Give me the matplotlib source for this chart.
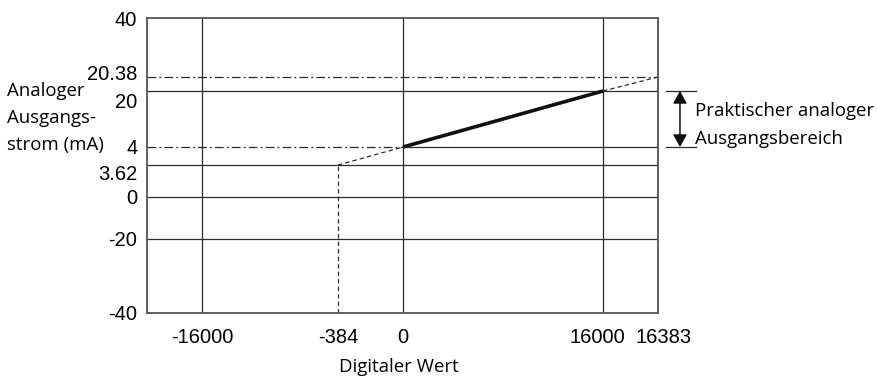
import numpy as np
import matplotlib
matplotlib.use("Agg")
import matplotlib.pyplot as plt
from matplotlib.transforms import ScaledTranslation, blended_transform_factory

# Tick values and the characteristic output line
x_ticks = [-16000, -384, 0, 16000, 16383]
y_ticks = [-40, -20, 0, 3.62, 4, 20, 20.38, 40]
digital = [-384, 0, 16000, 16383]
current = [3.62, 4, 20, 20.38]

x_min, x_max = -20000, 16383
y_min, y_max = -40, 40

# Piecewise axis spacing (schematic, not to scale)
x_knots = [x_min, -16000, -384, 0, 16000, 16383]
x_place = [0, 55, 191, 256, 456, 511]
y_knots = [-40, -20, 0, 3.62, 4, 20, 20.38, 40]
y_place = [0, 74, 116, 148, 166, 222, 236, 295]


def piecewise(knots, place):
    k = np.asarray(knots, float)
    p = np.asarray(place, float)
    s0 = (p[1] - p[0]) / (k[1] - k[0])
    s1 = (p[-1] - p[-2]) / (k[-1] - k[-2])
    big = 1e7
    k = np.concatenate([[k[0] - big], k, [k[-1] + big]])
    p = np.concatenate([[p[0] - big * s0], p, [p[-1] + big * s1]])

    def fwd(v):
        return np.interp(v, k, p)

    def inv(v):
        return np.interp(v, p, k)

    return fwd, inv


TICK_FONT = "Liberation Sans"
LABEL_FONT = "Open Sans"
LABEL_SIZE = 13.4
GRID = "#2b2b2b"

fig = plt.figure(figsize=(8.78, 3.79), dpi=100)
ax = fig.add_axes([147 / 878, 66 / 379, 511 / 878, 295 / 379])
ax.set_xscale("function", functions=piecewise(x_knots, x_place))
ax.set_yscale("function", functions=piecewise(y_knots, y_place))
ax.set_xlim(x_min, x_max)
ax.set_ylim(y_min, y_max)

for s in ax.spines.values():
    s.set_color("#555555")
    s.set_linewidth(1.3)

# Solid reference lines
for xv in (-16000, 0, 16000):
    ax.plot([xv, xv], [y_min, y_max], color=GRID, lw=0.9)
for yv in (20, 3.62, 0, -20):
    ax.plot([x_min, x_max], [yv, yv], color=GRID, lw=0.9)
ax.plot([0, x_max], [4, 4], color=GRID, lw=0.9)

# Dash-dot limits
dashdot = (0, (7, 2.5, 1.5, 2.5))
ax.plot([x_min, x_max], [20.38, 20.38], color=GRID, lw=0.9, linestyle=dashdot)
ax.plot([x_min, 0], [4, 4], color=GRID, lw=0.9, linestyle=dashdot)

# Output characteristic
dashed = (0, (3.5, 2.5))
ax.plot([digital[0], digital[0]], [y_min, current[0]], color=GRID, lw=0.9,
        linestyle=dashed)
ax.plot(digital[:2], current[:2], color=GRID, lw=0.9, linestyle=dashed)
ax.plot(digital[1:3], current[1:3], color="#111111", lw=2.6,
        solid_capstyle="butt")
ax.plot(digital[2:], current[2:], color=GRID, lw=0.9, linestyle=dashed)

# Ticks
ax.tick_params(length=0, labelsize=14.5, pad=7)
ax.set_xticks(x_ticks)
ax.set_xticklabels([str(v) for v in x_ticks], family=TICK_FONT)
ax.set_yticks(y_ticks)
ax.set_yticklabels([f"{v:g}" for v in y_ticks], family=TICK_FONT)
ax.tick_params(axis="x", pad=11)

y_nudge = {20.38: 5, 20: -9, 3.62: -7}
for v, lab in zip(y_ticks, ax.get_yticklabels()):
    if v in y_nudge:
        lab.set_transform(lab.get_transform() +
                          ScaledTranslation(0, y_nudge[v] / 100, fig.dpi_scale_trans))
x_nudge = {16000: -6, 16383: 6}
for v, lab in zip(x_ticks, ax.get_xticklabels()):
    if v in x_nudge:
        lab.set_transform(lab.get_transform() +
                          ScaledTranslation(x_nudge[v] / 100, 0, fig.dpi_scale_trans))

# Axis titles
fig.text(7 / 878, 1 - 118 / 379, "Analoger\nAusgangs-\nstrom (mA)",
         family=LABEL_FONT, fontsize=LABEL_SIZE, ha="left", va="center",
         linespacing=1.65)
fig.text(399 / 878, 1 - 367 / 379, "Digitaler Wert", family=LABEL_FONT,
         fontsize=LABEL_SIZE, ha="center", va="center")

# Practical output range marker
tr = blended_transform_factory(ax.transAxes, ax.transData)
for yv in (4, 20):
    ax.plot([1.016, 1.074], [yv, yv], color=GRID, lw=0.9, transform=tr,
            clip_on=False)
ax.annotate("", xy=(1.043, 20), xytext=(1.043, 4), xycoords=tr, textcoords=tr,
            annotation_clip=False,
            arrowprops=dict(arrowstyle="<|-|>,head_length=0.75,head_width=0.42",
                            color="#111111", lw=1.1, shrinkA=0, shrinkB=0))
ax.text(1.073, 10.3, "Praktischer analoger\nAusgangsbereich", transform=tr,
        family=LABEL_FONT, fontsize=LABEL_SIZE, ha="left", va="center",
        linespacing=1.65)

fig.savefig("out.png", dpi=100)
